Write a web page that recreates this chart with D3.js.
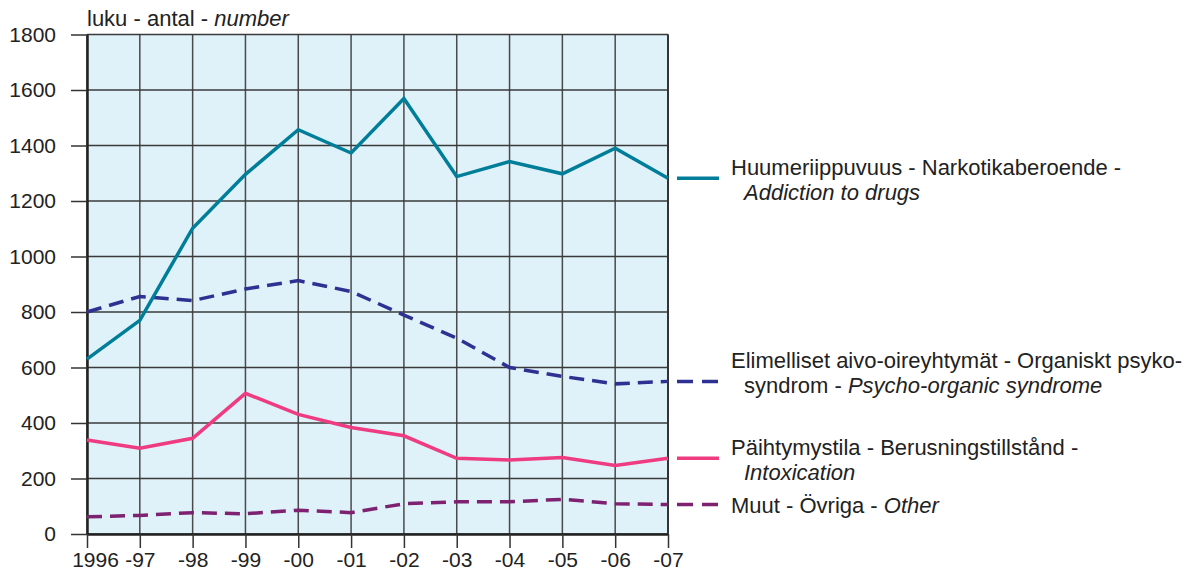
<!DOCTYPE html>
<html>
<head>
<meta charset="utf-8">
<script src="https://cdn.jsdelivr.net/npm/d3@7"></script>
<style>
  body { margin: 0; background: #fff; }
  svg { display: block; font-family: "Liberation Sans", Arial, sans-serif; }
  .axis text { font-size: 21px; fill: #222; }
</style>
</head>
<body>
<div id="chart"></div>
<script>
// years on the x axis and their labels
var years = [1996, 1997, 1998, 1999, 2000, 2001, 2002, 2003, 2004, 2005, 2006, 2007];
var yearLabels = ["1996", "-97", "-98", "-99", "-00", "-01", "-02", "-03", "-04", "-05", "-06", "-07"];
var yTicks = [0, 200, 400, 600, 800, 1000, 1200, 1400, 1600, 1800];

// series values
var drugs = [630, 770, 1102, 1296, 1457, 1373, 1569, 1288, 1342, 1298, 1390, 1282];
var psychoOrganic = [800, 856, 841, 883, 913, 874, 789, 706, 600, 568, 541, 550];
var intoxication = [339, 309, 345, 507, 431, 384, 354, 273, 267, 276, 247, 273];
var other = [62, 67, 77, 73, 86, 77, 109, 116, 116, 125, 109, 106];

// make the svg
var width = 1189;
var height = 571;
var margin = { top: 34.5, right: 521, bottom: 37, left: 87 };

var svg = d3.select("#chart")
  .append("svg")
  .attr("width", width)
  .attr("height", height);

var xScale = d3.scaleLinear()
  .domain([1996, 2007])
  .range([margin.left, width - margin.right]);

var yScale = d3.scaleLinear()
  .domain([0, 1800])
  .range([height - margin.bottom, margin.top]);

// plot background
svg.append("rect")
  .attr("x", xScale(1996))
  .attr("y", yScale(1800))
  .attr("width", xScale(2007) - xScale(1996))
  .attr("height", yScale(0) - yScale(1800))
  .style("fill", "#dff1f9");

// vertical gridlines
svg.append("g")
  .selectAll("line")
  .data(years)
  .enter()
  .append("line")
  .attr("x1", function(d) { return xScale(d); })
  .attr("x2", function(d) { return xScale(d); })
  .attr("y1", yScale(1800))
  .attr("y2", yScale(0))
  .style("stroke", "#4a4a4a")
  .style("stroke-width", 1.5);

// horizontal gridlines
svg.append("g")
  .selectAll("line")
  .data(yTicks)
  .enter()
  .append("line")
  .attr("x1", xScale(1996))
  .attr("x2", xScale(2007))
  .attr("y1", function(d) { return yScale(d); })
  .attr("y2", function(d) { return yScale(d); })
  .style("stroke", "#3a3a3a")
  .style("stroke-width", 1.5);

// y axis
var yAxis = svg.append("g")
  .attr("class", "axis")
  .attr("transform", "translate(" + margin.left + ",0)")
  .call(d3.axisLeft(yScale).tickValues(yTicks).tickSize(16).tickPadding(15).tickSizeOuter(0)
    .tickFormat(d3.format("d")));
yAxis.select(".domain").style("stroke", "#222").style("stroke-width", 2.5);
yAxis.selectAll(".tick line").style("stroke", "#333").style("stroke-width", 1.5);

// x axis
var xAxis = svg.append("g")
  .attr("class", "axis")
  .attr("transform", "translate(0," + yScale(0) + ")")
  .call(d3.axisBottom(xScale).tickValues(years).tickSize(14).tickPadding(4).tickSizeOuter(0)
    .tickFormat(function(d, i) { return yearLabels[i]; }));
xAxis.select(".domain").style("stroke", "#222").style("stroke-width", 2.5);
xAxis.selectAll(".tick line").style("stroke", "#333").style("stroke-width", 1.5);
xAxis.selectAll(".tick text").attr("dx", function(d, i) { return i == 0 ? 8 : 0; });

// right border
svg.append("line")
  .attr("x1", xScale(2007)).attr("x2", xScale(2007))
  .attr("y1", yScale(1800)).attr("y2", yScale(0))
  .style("stroke", "#333").style("stroke-width", 2);

// y axis title
var title = svg.append("text")
  .attr("x", margin.left)
  .attr("y", 26)
  .style("font-size", "22px")
  .style("fill", "#222");
title.append("tspan").text("luku - antal - ");
title.append("tspan").style("font-style", "italic").text("number");

// series settings
var series = [
  { values: drugs, color: "#007e99", dash: null,
    lines: [[["Huumeriippuvuus - Narkotikaberoende -", false]], [["Addiction to drugs", true]]], dy: -3 },
  { values: psychoOrganic, color: "#2e3192", dash: "15,8",
    lines: [[["Elimelliset aivo-oireyhtymät - Organiskt psyko-", false]], [["syndrom - ", false], ["Psycho-organic syndrome", true]]], dy: -13 },
  { values: intoxication, color: "#ef3b80", dash: null,
    lines: [[["Päihtymystila - Berusningstillstånd -", false]], [["Intoxication", true]]], dy: -3 },
  { values: other, color: "#7e2170", dash: "15,8",
    lines: [[["Muut - Övriga - ", false], ["Other", true]]], dy: 8 }
];

var line = d3.line()
  .x(function(d, i) { return xScale(years[i]); })
  .y(function(d) { return yScale(d); });

// draw the lines, bottom series first
series.slice().reverse().forEach(function(s) {
  svg.append("path")
    .datum(s.values)
    .attr("d", line)
    .style("fill", "none")
    .style("stroke", s.color)
    .style("stroke-width", 3.5)
    .style("stroke-dasharray", s.dash);
});

// legend next to the end of each line
series.forEach(function(s) {
  var ly = yScale(s.values[s.values.length - 1]);
  svg.append("line")
    .attr("x1", 677).attr("x2", 719)
    .attr("y1", ly).attr("y2", ly)
    .style("stroke", s.color)
    .style("stroke-width", 3.5)
    .style("stroke-dasharray", s.dash ? "16,9" : null);

  var text = svg.append("text")
    .style("font-size", "22px")
    .style("fill", "#222");
  s.lines.forEach(function(parts, i) {
    parts.forEach(function(p, j) {
      var t = text.append("tspan").text(p[0]);
      if (j == 0) {
        t.attr("x", i == 0 ? 731 : 744).attr("y", ly + s.dy + i * 24.5);
      }
      if (p[1]) t.style("font-style", "italic");
    });
  });
});
</script>
</body>
</html>
